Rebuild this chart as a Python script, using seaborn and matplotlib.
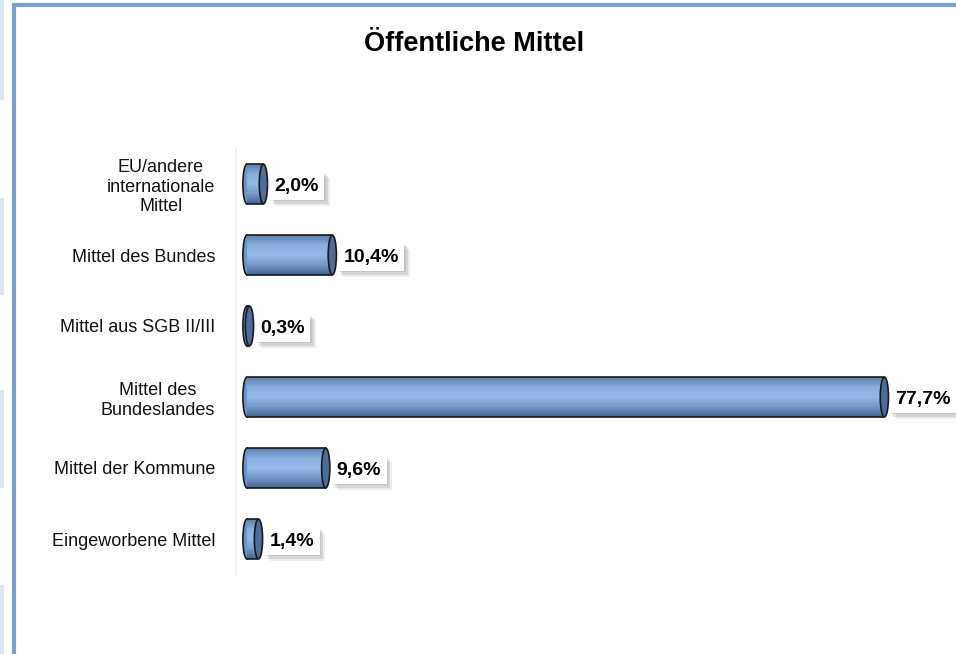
import matplotlib
matplotlib.use("Agg")
import matplotlib.pyplot as plt
import matplotlib.patheffects as pe
from matplotlib.patches import Ellipse, Rectangle
from matplotlib.colors import LinearSegmentedColormap
import numpy as np
import seaborn as sns

# Daten
kategorien = ["EU/andere\ninternationale\nMittel", "Mittel des Bundes", "Mittel aus SGB II/III",
              "Mittel des\nBundeslandes", "Mittel der Kommune", "Eingeworbene Mittel"]
anteile = [2.0, 10.4, 0.3, 77.7, 9.6, 1.4]
titel = "Öffentliche Mittel"

sns.set_theme(style="white")
plt.rcParams['font.family'] = ['Liberation Sans', 'DejaVu Sans']

W, H = 956, 654
fig = plt.figure(figsize=(W / 100, H / 100), dpi=100)
ax = fig.add_axes([236 / W, 1 - 574.5 / H, 714 / W, 426 / H])

sns.barplot(x=anteile, y=kategorien, orient="h", width=0.56, color="#7FA4D4",
            ax=ax, saturation=1)

verlauf = LinearSegmentedColormap.from_list(
    "zylinder", ["#5C80B0", "#88AFE0", "#93B9E8", "#7399CB", "#44628C"])
grad = np.linspace(0, 1, 64).reshape(-1, 1)

xmin, xmax = -1.34, 85.7
kappe_w = 1.0
for bar in ax.patches[:len(anteile)]:
    x0, y0 = bar.get_x(), bar.get_y()
    w, h = bar.get_width(), bar.get_height()
    yc = y0 + h / 2
    bar.set_facecolor("none")
    bar.set_edgecolor("none")
    # linke Rundung
    ax.add_patch(Ellipse((x0, yc), kappe_w, h, fc="#6F94C6", ec="#1a1a1a", lw=1.2, zorder=2))
    # Körper mit Verlauf
    im = ax.imshow(grad, cmap=verlauf, aspect="auto", extent=[x0, x0 + w, y0 + h, y0],
                   origin="upper", zorder=3)
    im.set_clip_path(bar)
    ax.plot([x0, x0 + w], [y0, y0], color="#1a1a1a", lw=1.2, zorder=4)
    ax.plot([x0, x0 + w], [y0 + h, y0 + h], color="#1a1a1a", lw=1.2, zorder=4)
    # rechte Kappe
    ax.add_patch(Ellipse((x0 + w, yc), kappe_w, h, fc="#4E6E99", ec="#1a1a1a", lw=1.2, zorder=5))
    # Wertbeschriftung
    txt = ax.text(x0 + w + 1.35, yc + 0.03, f"{w:.1f}".replace(".", ",") + "%", ha="left",
                  va="center", fontsize=14, fontweight="bold", color="black", zorder=6,
                  bbox=dict(boxstyle="square,pad=0.28", fc="white", ec="none"))
    txt.get_bbox_patch().set_path_effects([
        pe.SimplePatchShadow(offset=(4, -4), shadow_rgbFace="#A0A0A0", alpha=0.18),
        pe.SimplePatchShadow(offset=(2.5, -2.5), shadow_rgbFace="#909090", alpha=0.25),
        pe.SimplePatchShadow(offset=(1, -1), shadow_rgbFace="#808080", alpha=0.2),
        pe.Normal()])

ax.set_xlim(xmin, xmax)
ax.set_ylim(5.5, -0.5)
ax.set_xticks([])
ax.set_xlabel("")
ax.set_ylabel("")
for s in ["top", "right", "bottom"]:
    ax.spines[s].set_visible(False)
ax.spines["left"].set_color("#EFEFEF")
ax.spines["left"].set_linewidth(1.2)
ax.tick_params(axis="y", length=0, pad=15, labelsize=13, labelcolor="#111111")
for lab in ax.get_yticklabels():
    lab.set_multialignment("center")

fig.text(474 / W, 1 - 44 / H, titel, ha="center", va="center", fontsize=19.5,
         fontweight="bold", color="black")

# Rahmen und Ränder
fig.patches.append(Rectangle((14 / W, -0.1), 1.2, 1 - 5 / H + 0.1, transform=fig.transFigure,
                             fill=False, ec="#7BA1CE", lw=3, figure=fig))
for y_a, y_b in [(0, 100), (198, 295), (390, 488), (585, 654)]:
    fig.patches.append(Rectangle((0, 1 - y_b / H), 3.5 / W, (y_b - y_a) / H,
                                 transform=fig.transFigure, fc="#DDE6F1", ec="none", figure=fig))

fig.savefig("out.png", dpi=100)
